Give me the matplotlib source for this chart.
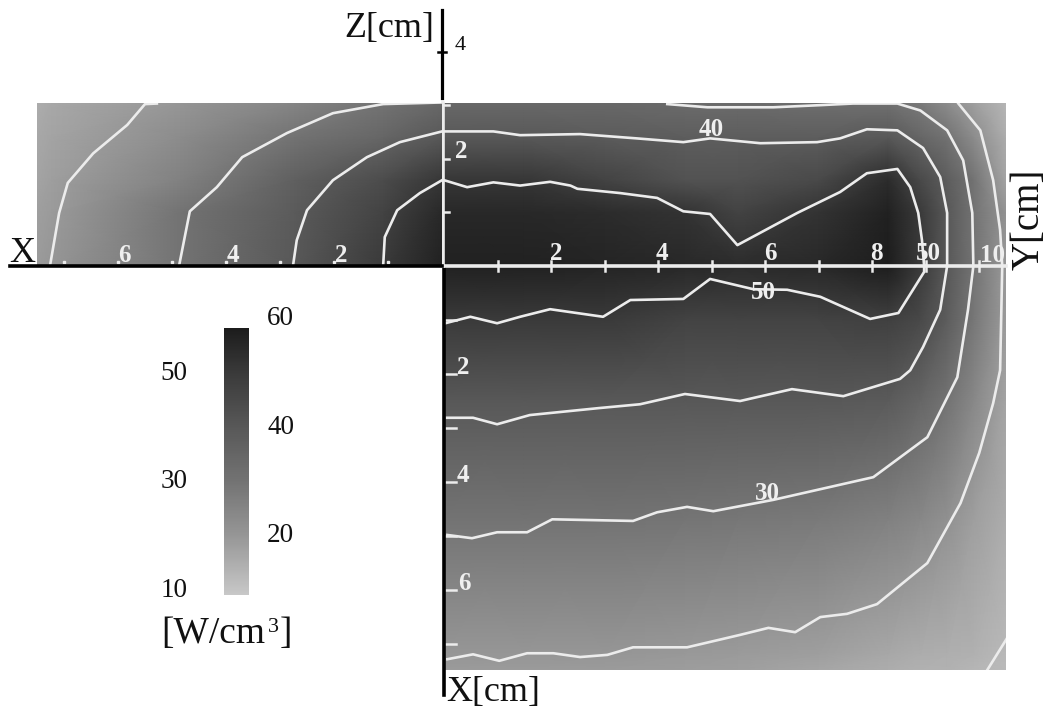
import numpy as np
import matplotlib
matplotlib.use('Agg')
import matplotlib.pyplot as plt
from matplotlib.colors import LinearSegmentedColormap, Normalize
from matplotlib.cm import ScalarMappable

plt.rcParams['font.family'] = ['Liberation Serif', 'DejaVu Serif']

W, H = 1047, 707

# colour scale, value -> grey level
scale_values = [9, 20, 30, 40, 50, 60]
scale_greys = [200, 150, 115, 88, 58, 22]
bar_labels_left = [50, 30, 10]
bar_labels_right = [60, 40, 20]

# grid nodes in cm
y_nodes = [0, 1.5, 3, 4.5, 5.5, 7, 8.3, 8.9, 9.4, 9.9, 10.5]
z_nodes = [0, 1, 1.6, 2.4, 3.04]
x_nodes_side = [0, 1.1, 2.75, 4.85, 7.25, 7.5]
x_nodes_front = [0, 1, 2.5, 4.7, 7.2, 7.48]

# power density, Y-Z panel (rows are z)
field_yz = [
    [57, 57, 56, 55, 54, 55, 58, 50, 40, 30, 19.5],
    [55, 55, 54, 52, 47, 52, 57, 50, 40, 30, 21],
    [51, 51, 47, 42, 42, 45, 54, 45, 38, 30, 17],
    [40, 40, 39, 38, 38, 38, 40, 35, 30.5, 23, 15],
    [34, 34, 34, 33, 33, 32, 31, 28, 23, 18, 13],
]
# X-Z panel (rows are z, columns go out along x)
field_xz = [
    [57, 50, 40, 30, 20, 19],
    [55, 47, 39, 30, 19, 18],
    [51, 44, 37, 26, 18, 17],
    [40, 35, 30, 23, 17, 16],
    [34, 30, 25, 20, 16, 15],
]
# Y-X panel (rows are x)
field_yx = [
    [57, 57, 56, 55, 54, 55, 58, 50, 40, 30, 19.5],
    [50, 50, 50, 47, 47, 47, 48, 45, 38, 29, 19],
    [40, 40, 40, 40, 40, 40, 39, 35, 30, 24, 17],
    [30, 30, 30, 29.5, 29, 28, 26, 24, 21.5, 18, 15],
    [20, 20, 20, 19.5, 19, 18, 16, 15, 14.5, 14, 12.5],
    [19, 19, 19, 18.5, 18, 16.5, 15, 14, 14, 13, 12],
]

# contours of the X-Z panel, (x, z)
xz_a_x = [7.26, 7.09, 6.93, 6.46, 5.83, 5.5, 5.28]
xz_a_z = [0, 0.99, 1.55, 2.10, 2.63, 3.02, 3.03]
xz_b_x = [4.87, 4.67, 4.17, 3.70, 2.87, 2.02, 1.09, 0]
xz_b_z = [0, 1.02, 1.47, 2.03, 2.48, 2.85, 3.02, 3.05]
xz_c_x = [2.76, 2.69, 2.5, 2.02, 1.39, 0.78, 0]
xz_c_z = [0, 0.48, 1.04, 1.6, 2.03, 2.31, 2.51]
xz_d_x = [1.09, 1.06, 0.83, 0.41, 0]
xz_d_z = [0, 0.54, 1.04, 1.36, 1.6]

# contours of the Y-Z panel, (y, z)
yz_50_y = [0, 0.43, 0.92, 1.42, 1.98, 2.36, 2.49, 3.29, 3.98, 4.47, 4.97, 5.48, 6.6, 7.4, 7.9, 8.47, 8.71, 8.86, 8.93, 8.97]
yz_50_z = [1.6, 1.47, 1.56, 1.5, 1.57, 1.5, 1.44, 1.36, 1.27, 1.02, 0.97, 0.39, 0.99, 1.38, 1.73, 1.81, 1.47, 0.99, 0.48, 0]
yz_40_y = [0, 0.92, 1.42, 2.54, 3.6, 4.47, 4.97, 5.91, 6.97, 7.4, 7.9, 8.47, 8.95, 9.27, 9.4, 9.4]
yz_40_z = [2.51, 2.51, 2.44, 2.46, 2.38, 2.31, 2.38, 2.29, 2.31, 2.38, 2.55, 2.53, 2.2, 1.66, 0.99, 0]
yz_30_y = [4.17, 4.92, 6.15, 7.03, 7.64, 8.47, 8.9, 9.4, 9.7, 9.87, 9.89]
yz_30_z = [3.02, 2.96, 2.96, 3.0, 3.03, 3.03, 2.9, 2.53, 1.97, 0.99, 0]
yz_20_y = [9.61, 10.02, 10.26, 10.39, 10.43]
yz_20_z = [3.03, 2.53, 1.6, 0.67, 0]

# contours of the Y-X panel, (y, x)
yx_50_y = [0.02, 0.49, 0.99, 1.42, 1.98, 2.97, 3.48, 4.47, 4.97, 5.78, 6.41, 7.03, 7.96, 8.49, 8.97, 8.97]
yx_50_x = [1.06, 0.94, 1.06, 0.94, 0.80, 0.94, 0.63, 0.61, 0.24, 0.43, 0.44, 0.57, 0.98, 0.87, 0.11, 0]
yx_40_y = [0.05, 0.54, 0.99, 1.6, 2.9, 3.66, 4.5, 5.53, 6.5, 7.46, 8.52, 8.71, 8.95, 9.27, 9.4]
yx_40_x = [2.81, 2.81, 2.93, 2.76, 2.63, 2.56, 2.37, 2.5, 2.28, 2.41, 2.09, 1.93, 1.5, 0.81, 0]
yx_30_y = [0.06, 0.52, 0.99, 1.55, 2.02, 3.53, 3.98, 4.54, 5.03, 6.15, 8.02, 9.03, 9.59, 9.79, 9.89]
yx_30_x = [4.98, 5.04, 4.93, 4.93, 4.69, 4.72, 4.56, 4.46, 4.54, 4.33, 3.91, 3.17, 2.06, 0.81, 0]
yx_20_y = [0.06, 0.54, 1.03, 1.55, 2.04, 2.54, 3.05, 3.53, 4.54, 5.53, 6.06, 6.56, 7.03, 7.53, 8.09, 9.03, 9.65, 10.0, 10.26, 10.39, 10.43]
yx_20_x = [7.28, 7.19, 7.31, 7.17, 7.17, 7.24, 7.2, 7.06, 7.06, 6.83, 6.70, 6.78, 6.5, 6.44, 6.26, 5.5, 4.39, 3.46, 2.54, 1.93, 0]
yx_10_y = [10.15, 10.52]
yx_10_x = [7.48, 6.89]

y_ticks = [1, 2, 3, 4, 5, 6, 7, 8, 9, 10]
z_ticks = [1, 2, 3]
x_ticks_side = [1, 2, 3, 4, 5, 6, 7]
x_ticks_front = [1, 2, 3, 4, 5, 6, 7]
line_white = '#ececec'


def pixel_axes(fig, left, top, right, bottom):
    # axes placed by reference pixels
    ax = fig.add_axes([left / W, 1 - bottom / H, (right - left) / W, (bottom - top) / H])
    ax.axis('off')
    return ax


def pixel_text(fig, x, y, s, **kw):
    kw.setdefault('ha', 'left')
    kw.setdefault('va', 'center')
    fig.text(x / W, 1 - y / H, s, **kw)


cmap = LinearSegmentedColormap.from_list(
    'power', [((v - 9) / 51, (g / 255,) * 3) for v, g in zip(scale_values, scale_greys)])
norm = Normalize(9, 60)

fig = plt.figure(figsize=(W / 100, H / 100), dpi=100, facecolor='white')

##### X-Z panel, x runs leftwards #####
ax_xz = pixel_axes(fig, 37, 103, 442, 266)
ax_xz.pcolormesh(x_nodes_side, z_nodes, np.array(field_xz), cmap=cmap, norm=norm, shading='gouraud')
for cx, cz in [(xz_a_x, xz_a_z), (xz_b_x, xz_b_z), (xz_c_x, xz_c_z), (xz_d_x, xz_d_z)]:
    ax_xz.plot(cx, cz, color=line_white, lw=1.9)
ax_xz.set_xlim(7.5, 0)
ax_xz.set_ylim(0, 3.04)
ax_xz.plot(x_ticks_side, [0.07] * len(x_ticks_side), ls='none', marker='s', ms=1.8, color=line_white)

##### Y-Z panel #####
ax_yz = pixel_axes(fig, 442, 103, 1006, 266)
ax_yz.pcolormesh(y_nodes, z_nodes, np.array(field_yz), cmap=cmap, norm=norm, shading='gouraud')
for cy, cz in [(yz_50_y, yz_50_z), (yz_40_y, yz_40_z), (yz_30_y, yz_30_z), (yz_20_y, yz_20_z)]:
    ax_yz.plot(cy, cz, color=line_white, lw=1.9)
ax_yz.set_xlim(-0.04, 10.5)
ax_yz.set_ylim(0, 3.04)

##### Y-X panel, x runs downwards #####
ax_yx = pixel_axes(fig, 442, 266, 1006, 670)
ax_yx.pcolormesh(y_nodes, x_nodes_front, np.array(field_yx), cmap=cmap, norm=norm, shading='gouraud')
for cy, cx in [(yx_50_y, yx_50_x), (yx_40_y, yx_40_x), (yx_30_y, yx_30_x), (yx_20_y, yx_20_x), (yx_10_y, yx_10_x)]:
    ax_yx.plot(cy, cx, color=line_white, lw=1.9)
ax_yx.set_xlim(-0.04, 10.5)
ax_yx.set_ylim(7.48, 0)

# the panel holding the white axis sits on top so the line is not cut in half
ax_yz.set_zorder(3)
ax_xz.set_zorder(4)

# axis lines and ticks
ax_yz.plot([0, 10.5], [0, 0], color=line_white, lw=2.6, clip_on=False, zorder=4)
ax_yz.plot([-0.02, -0.02], [0, 3.04], color=line_white, lw=2.6, clip_on=False, zorder=4)
for t in y_ticks:
    ax_yz.plot([t, t], [-0.09, 0.09], color=line_white, lw=1.8, clip_on=False, zorder=4)
for t in z_ticks:
    ax_yz.plot([-0.14, 0.1], [t, t], color=line_white, lw=1.8, clip_on=False, zorder=4)
for t in x_ticks_front:
    ax_yx.plot([0.04, 0.22], [t, t], color=line_white, lw=1.8, zorder=4)

ax_xz.plot([8.0, 0], [0, 0], color='black', lw=2.6, clip_on=False, zorder=5)
ax_yx.plot([-0.01, -0.01], [0, 7.94], color='black', lw=2.6, clip_on=False, zorder=5)
ax_yz.plot([-0.04, -0.04], [3.13, 4.77], color='black', lw=2.3, clip_on=False, zorder=5)
ax_yz.plot([-0.12, 0.04], [4, 4], color='black', lw=1.8, clip_on=False, zorder=5)

##### colour bar #####
cax = pixel_axes(fig, 224, 328, 249, 596)
bar = fig.colorbar(ScalarMappable(norm=norm, cmap=cmap), cax=cax)
bar.outline.set_visible(False)
bar.set_ticks([])
cax.set_ylim(8.9, 58.3)
for v in bar_labels_left:
    cax.text(-1.46, v, str(v), fontsize=19.5, color='#111111', ha='right', va='center', clip_on=False,
             transform=cax.get_yaxis_transform())
for v in bar_labels_right:
    cax.text(1.72, v, str(v), fontsize=19.5, color='#111111', ha='left', va='center', clip_on=False,
             transform=cax.get_yaxis_transform())
pixel_text(fig, 161, 634, '[W/cm', fontsize=27, color='#111111')
pixel_text(fig, 268, 627, '3', fontsize=16, color='#111111')
pixel_text(fig, 280, 634, ']', fontsize=27, color='#111111')

##### labels #####
pixel_text(fig, 344, 28, 'Z[cm]', fontsize=26, color='#111111')
pixel_text(fig, 9, 253, 'X', fontsize=26, color='#111111')
pixel_text(fig, 446, 692, 'X[cm]', fontsize=26, color='#111111')
pixel_text(fig, 1029, 219, 'Y[cm]', fontsize=28, color='#111111', rotation=90, ha='center')
pixel_text(fig, 455, 45, '4', fontsize=16, color='#111111')

bold = dict(fontsize=18, color='#efefef', fontweight='bold', ha='center')
for x, y, s in [(124, 255, '6'), (233, 255, '4'), (341, 255, '2'), (461, 151, '2'),
                (556, 253, '2'), (662, 254, '4'), (770, 254, '6'), (876, 254, '8'),
                (928, 253, '50'), (993, 255, '10'), (711, 130, '40'), (763, 292, '50'),
                (767, 494, '30'), (463, 367, '2'), (463, 476, '4'), (464, 584, '6')]:
    pixel_text(fig, x, y, s, zorder=6, **bold)

plt.savefig('out.png', dpi=100)
